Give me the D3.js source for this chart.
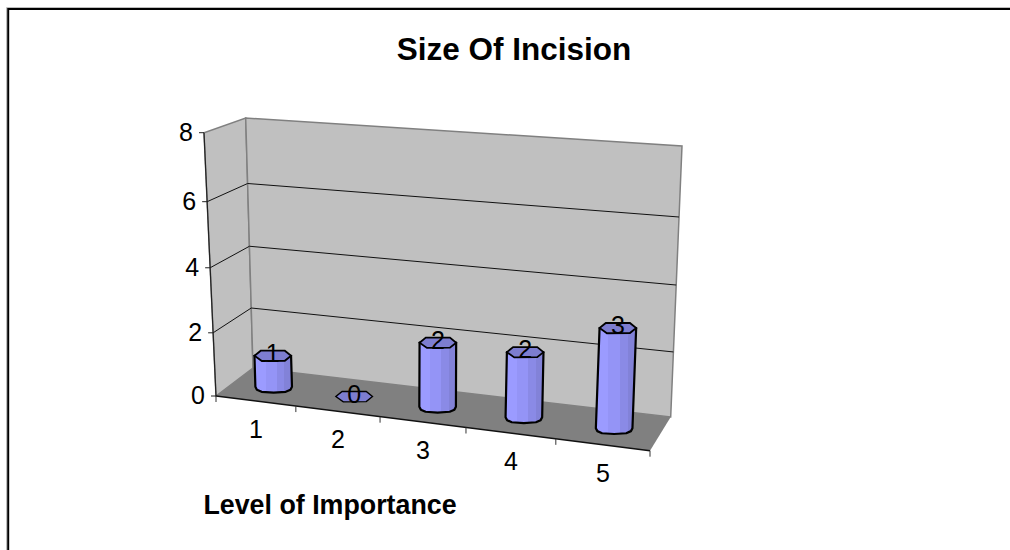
<!DOCTYPE html>
<html><head><meta charset="utf-8">
<script src="https://cdn.jsdelivr.net/npm/d3@7"></script>
<style>html,body{margin:0;padding:0;background:#fff}svg{display:block}text{font-family:"Liberation Sans",Arial,sans-serif;fill:#000}</style>
</head><body><svg id="c" width="1010" height="550"></svg>
<script>
const title = "Size Of Incision";
const xTitle = "Level of Importance";
const categories = ["1","2","3","4","5"];
const values = [1,0,2,2,3];
const labels = ["1","0","2","2","3"];
const yTicks = [0,2,4,6,8];

const svg = d3.select("#c");
const W = 1010, H = 550;
// frame
svg.append("path").attr("d",`M6.5,${H+2}V7.5H${W+2}`).attr("fill","none").attr("stroke","#bdbdbd").attr("stroke-width",1);
svg.append("path").attr("d",`M8.2,${H+2}V9H${W+2}`).attr("fill","none").attr("stroke","#000").attr("stroke-width",2);

// 3D box scales (piecewise to follow the foreshortening of the perspective)
const uS = d3.scaleLinear().domain([0,1,2,3,4,5]).range([0,.184,.378,.576,.783,1]);
const vS = d3.scaleLinear().domain(yTicks).range([0,.24,.487,.738,1]);
const corners = {fl:[216,396],fr:[650,450.7],br:[670.7,417],bl:[253,368]};
const ups = {fl:[-12,-263.3],fr:[14,-285],br:[11.3,-271],bl:[-7.3,-250]};
const lerp=(a,b,t)=>a+(b-a)*t;
const bil=(q,u,d,i)=>lerp(lerp(q.fl[i],q.fr[i],u),lerp(q.bl[i],q.br[i],u),d);
function P(c,d,v){const u=uS(c),t=vS(v);return [bil(corners,u,d,0)+bil(ups,u,d,0)*t,bil(corners,u,d,1)+bil(ups,u,d,1)*t];}
const line=d3.line();
const n=categories.length;
// walls
svg.append("path").attr("d",line([P(0,0,0),P(0,1,0),P(0,1,8),P(0,0,8)])+"Z").attr("fill","#c0c0c0").attr("stroke","#808080").attr("stroke-width",1.5);
svg.append("path").attr("d",line([P(0,1,0),P(n,1,0),P(n,1,8),P(0,1,8)])+"Z").attr("fill","#c0c0c0").attr("stroke","#808080").attr("stroke-width",1.5);
svg.append("path").attr("d",line([P(0,0,0),P(n,0,0),P(n,1,0),P(0,1,0)])+"Z").attr("fill","#808080");
// gridlines
yTicks.filter(v=>v>0&&v<8).forEach(v=>{
 svg.append("path").attr("d",line([P(0,0,v),P(0,1,v),P(n,1,v)])).attr("fill","none").attr("stroke","#111").attr("stroke-width",1);
});
// axis lines
svg.append("path").attr("d",line([P(0,0,0),P(0,0,8)])).attr("stroke","#222").attr("stroke-width",1.2).attr("fill","none");
svg.append("path").attr("d",line([P(0,0,0),P(n,0,0)])).attr("stroke","#111").attr("stroke-width",1.4).attr("fill","none");
yTicks.forEach(v=>{const p=P(0,0,v);
 svg.append("line").attr("x1",p[0]-5).attr("x2",p[0]).attr("y1",p[1]).attr("y2",p[1]).attr("stroke","#222");
 svg.append("text").attr("x",p[0]-11).attr("y",p[1]+8).attr("text-anchor","end").attr("font-size",25).text(v);
});
d3.range(0,n+1).forEach(i=>{const p=P(i,0,0);
 svg.append("line").attr("x1",p[0]).attr("x2",p[0]).attr("y1",p[1]).attr("y2",p[1]+6).attr("stroke","#333");
});
categories.forEach((c,i)=>{const p=P(i+.5,0,0);
 svg.append("text").attr("x",p[0]).attr("y",p[1]+37).attr("text-anchor","middle").attr("font-size",25).text(c);
});
// cylinders
const defs=svg.append("defs");
const g=defs.append("linearGradient").attr("id","body");
const bands=[["#9b9bff",0],["#9b9bff",.3],["#9494f6",.3],["#9494f6",.6],["#8a8ae6",.6],["#8a8ae6",.8],["#8282d8",.8],["#8282d8",1]];
bands.forEach(b=>g.append("stop").attr("offset",b[1]).attr("stop-color",b[0]));
const rx=18.3, ry=5.8;
const ringAt=(c,deg)=>deg.map(d=>{const a=d*Math.PI/180;return [c[0]+rx*Math.sign(Math.cos(a))*Math.pow(Math.abs(Math.cos(a)),.6),c[1]+ry*Math.sin(a)];});
const baseDeg=[0,30,60,90,120,150,180];
const capDeg=[0,60,115,180,240,300];
values.forEach((v,i)=>{
 const b=P(i+.5,.5,0), t=P(i+.5,.5,v);
 const rb=ringAt(b,baseDeg);
 const rt=ringAt(t,capDeg);
 const body=[rt[3],rt[0],...rb];
 if(v>0) svg.append("path").attr("d",line(body)+"Z").attr("fill","url(#body)").attr("stroke","#000").attr("stroke-width",2.2).attr("stroke-linejoin","round");
 svg.append("path").attr("d",line(rt)+"Z").attr("fill","#7d7dd0").attr("stroke","#000").attr("stroke-width",v>0?1.8:1.4);
 svg.append("text").attr("x",t[0]).attr("y",t[1]+6).attr("text-anchor","middle").attr("font-size",25).attr("fill","#111").text(labels[i]);
});
// titles
svg.append("text").attr("x",514).attr("y",60).attr("text-anchor","middle").attr("font-size",31.5).attr("font-weight","bold").text(title);
svg.append("text").attr("x",330).attr("y",514).attr("text-anchor","middle").attr("font-size",26.8).attr("font-weight","bold").text(xTitle);
</script></body></html>
